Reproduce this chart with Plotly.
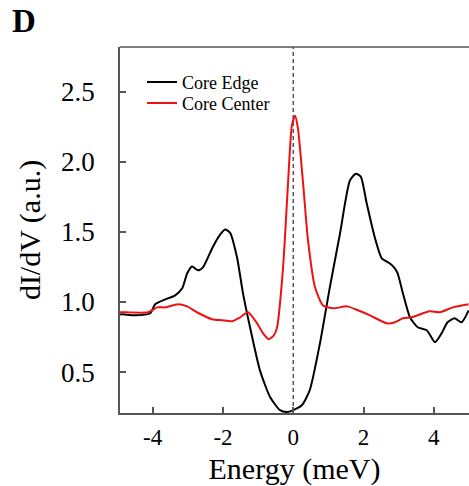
import plotly.graph_objects as go

# Core Edge (black)
edge_x = [-4.95, -4.87, -4.50, -4.07, -3.93, -3.64, -3.36, -3.16, -3.02, -2.88, -2.71, -2.57, -2.31, -2.14,
          -1.94, -1.80, -1.60, -1.43, -1.23, -0.95, -0.66, -0.38, -0.18, 0.0, 0.25, 0.47, 0.76,
          1.04, 1.33, 1.61, 1.78, 1.92, 2.09, 2.32, 2.52, 2.75, 2.89, 2.97, 3.12, 3.32, 3.54,
          3.80, 4.03, 4.22, 4.39, 4.59, 4.79, 4.99]
edge_y = [0.91, 0.912, 0.905, 0.920, 0.984, 1.019, 1.048, 1.098, 1.204, 1.254, 1.226, 1.247, 1.382, 1.460,
          1.517, 1.496, 1.318, 1.062, 0.820, 0.514, 0.322, 0.229, 0.215, 0.229, 0.265, 0.372, 0.706,
          1.105, 1.489, 1.866, 1.916, 1.895, 1.703, 1.460, 1.311, 1.275, 1.240, 1.204, 1.062, 0.891, 0.820,
          0.799, 0.713, 0.777, 0.856, 0.884, 0.856, 0.94]

# Core Center (red)
center_x = [-4.95, -4.87, -4.13, -3.87, -3.64, -3.28, -3.02, -2.74, -2.31, -2.03, -1.74, -1.51, -1.29,
            -1.03, -0.86, -0.69, -0.55, -0.46, -0.29, -0.15, -0.04, 0.05, 0.13, 0.28, 0.42, 0.62,
            0.84, 1.13, 1.53, 1.84, 2.18, 2.66, 2.89, 3.12, 3.37, 3.88, 4.17, 4.54, 4.99]
center_y = [0.927, 0.927, 0.927, 0.962, 0.962, 0.984, 0.969, 0.927, 0.877, 0.870, 0.863, 0.891, 0.927,
            0.848, 0.777, 0.735, 0.763, 0.820, 1.247, 1.845, 2.258, 2.329, 2.244, 1.845, 1.439, 1.105,
            0.977, 0.955, 0.969, 0.941, 0.905, 0.848, 0.856, 0.884, 0.891, 0.934, 0.927, 0.962, 0.984]

x_ticks = [-4, -2, 0, 2, 4]
x_labels = ["-4", "-2", "0", "2", "4"]
y_ticks = [0.5, 1.0, 1.5, 2.0, 2.5]
y_labels = ["0.5", "1.0", "1.5", "2.0", "2.5"]

serif = "Liberation Serif, Times New Roman, serif"
axcol = "#555555"

fig = go.Figure()
fig.add_trace(go.Scatter(x=edge_x, y=edge_y, mode="lines", name="Core Edge", legend="legend",
                         line=dict(color="black", width=2, shape="spline", smoothing=0.6)))
fig.add_trace(go.Scatter(x=center_x, y=center_y, mode="lines", name="Core Center", legend="legend2",
                         line=dict(color="#ee1111", width=2, shape="spline", smoothing=0.6)))

fig.add_shape(type="line", xref="x", yref="paper", x0=0, x1=0, y0=0, y1=1,
              line=dict(color="#555555", width=1.5, dash="4px,3px"), layer="below")
fig.add_shape(type="line", xref="paper", yref="paper", x0=0, x1=1, y0=1, y1=1,
              line=dict(color=axcol, width=1.5))

fig.add_annotation(text="<b>D</b>", xref="paper", yref="paper", x=-0.315, y=1.125,
                   xanchor="left", yanchor="top", showarrow=False,
                   font=dict(family=serif, size=33, color="black"))

legfont = dict(family=serif, size=18, color="black")
fig.update_layout(
    width=469, height=486,
    margin=dict(l=120, r=0, t=47, b=73),
    paper_bgcolor="white", plot_bgcolor="white",
    showlegend=True,
    legend=dict(x=0.063, y=0.954, xanchor="left", yanchor="top", font=legfont,
                bgcolor="rgba(0,0,0,0)"),
    legend2=dict(x=0.063, y=0.954 - 21 / 366.6, xanchor="left", yanchor="top", font=legfont,
                 bgcolor="rgba(0,0,0,0)"),
    xaxis=dict(range=[-4.93, 5.0], tickvals=x_ticks, ticktext=x_labels,
               showgrid=False, zeroline=False, showline=True, linecolor=axcol, linewidth=1.5,
               ticks="inside", ticklen=6, tickcolor=axcol, tickwidth=1.5, ticklabelstandoff=3,
               tickfont=dict(family=serif, size=23, color="black"),
               title=dict(text="Energy (meV)", font=dict(family=serif, size=30, color="black"), standoff=14)),
    yaxis=dict(range=[0.208, 2.82], tickvals=y_ticks, ticktext=y_labels,
               showgrid=False, zeroline=False, showline=True, linecolor=axcol, linewidth=1.5,
               ticks="inside", ticklen=6, tickcolor=axcol, tickwidth=1.5, ticklabelstandoff=18,
               tickfont=dict(family=serif, size=27, color="black"),
               title=dict(text="dI/dV (a.u.)", font=dict(family=serif, size=30, color="black"), standoff=12)),
)

fig.write_html("out.html")
